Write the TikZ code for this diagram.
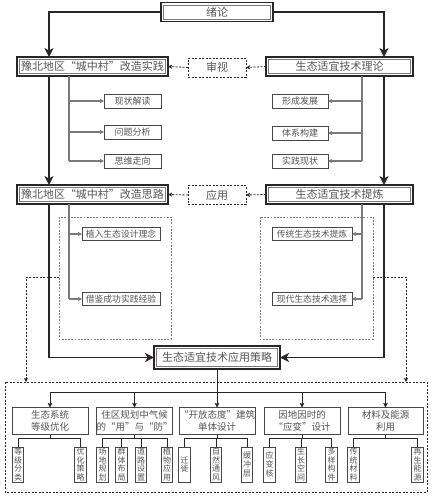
\documentclass[tikz,border=0pt]{standalone}
\usepackage{fontspec}
\newfontfamily\song{Noto Sans CJK SC}
\usetikzlibrary{arrows.meta,calc}
\definecolor{dk}{HTML}{2B2626}
\definecolor{tx}{HTML}{555555}
\definecolor{gl}{HTML}{7A7A7A}
\begin{document}
\begin{tikzpicture}[x=1pt,y=-1pt,
  every node/.style={inner sep=0pt,outer sep=0pt,text=tx},
  mainbox/.style={draw=dk,line width=1.7pt,fill=white,minimum height=19pt,font=\song\fontsize{11}{12}\selectfont},
  innerln/.style={draw=gl,line width=0.7pt},
  smallbox/.style={draw=black!72,line width=0.9pt,fill=white,minimum height=14pt,font=\song\fontsize{9}{10}\selectfont},
  midbox/.style={draw=black!72,line width=0.9pt,fill=white,minimum height=12.5pt,font=\song\fontsize{8.8}{10}\selectfont},
  dbox/.style={draw=dk,dashed,dash pattern=on 2pt off 1.5pt,line width=0.7pt,minimum height=19pt,minimum width=58pt,font=\song\fontsize{11}{12}\selectfont},
  catbox/.style={draw=black!72,line width=0.9pt,fill=white,minimum height=27pt,align=center,font=\song\fontsize{9.5}{12.5}\selectfont},
  leaf/.style={draw=black!72,line width=0.9pt,fill=white,minimum width=11.5pt,minimum height=35pt,align=center,font=\song\fontsize{8}{8.6}\selectfont},
  thk/.style={draw=dk,line width=1.5pt,-{Stealth[length=9pt,width=9pt,inset=2.5pt]}},
  thinln/.style={draw=gl,line width=1.1pt},
  sarr/.style={-{Stealth[length=4pt,width=4pt,inset=0.8pt]},draw=gl,line width=1.1pt},
  darr/.style={draw=dk,line width=0.8pt,dash pattern=on 2pt off 1.5pt,-{Stealth[length=4pt,width=4pt,inset=0.8pt]}},
  region/.style={draw=gl,line width=0.8pt,dash pattern=on 1.8pt off 1.4pt},
  ln/.style={draw=dk,line width=0.9pt},
  larr/.style={draw=dk,line width=0.9pt,-{Stealth[length=4.5pt,width=4.5pt,inset=0.8pt]}},
]
\useasboundingbox (0,0) rectangle (433,496);

% main boxes
\node[mainbox,minimum width=112pt] (xl) at (217,12) {绪论};
\node[mainbox,minimum width=151pt] (sj) at (92.5,66.5) {豫北地区“城中村”改造实践};
\node[mainbox,minimum width=147pt] (ll) at (339.5,66.5) {生态适宜技术理论};
\node[dbox] (sv) at (217,67.5) {审视};
\node[mainbox,minimum width=151pt] (sl) at (92.5,194.5) {豫北地区“城中村”改造思路};
\node[mainbox,minimum width=147pt] (tl) at (339.5,194.5) {生态适宜技术提炼};
\node[dbox] (yy) at (217,195) {应用};
\node[mainbox,minimum width=126pt,minimum height=23pt] (cl) at (217,357.5) {生态适宜技术应用策略};
\foreach \n in {xl,sj,ll,sl,tl,cl}{
  \draw[innerln] ([shift={(2.6pt,-2.6pt)}]\n.north west) rectangle ([shift={(-2.6pt,2.6pt)}]\n.south east);
}

% level-1 small boxes
\node[smallbox,minimum width=57pt] (a1) at (132.5,101) {现状解读};
\node[smallbox,minimum width=57pt] (a2) at (132.5,132) {问题分析};
\node[smallbox,minimum width=57pt] (a3) at (132.5,161) {思维走向};
\node[smallbox,minimum width=56pt] (b1) at (300,101) {形成发展};
\node[smallbox,minimum width=56pt] (b2) at (300,133) {体系构建};
\node[smallbox,minimum width=56pt] (b3) at (300,161) {实践现状};

% regions
\draw[region] (59,217) rectangle (171,339);
\draw[region] (260,217) rectangle (373,339);
\node[midbox,minimum width=78pt] (c1) at (121,234) {植入生态设计理念};
\node[midbox,minimum width=78pt] (c2) at (121,299) {借鉴成功实践经验};
\node[midbox,minimum width=80pt] (d1) at (312,234) {传统生态技术提炼};
\node[midbox,minimum width=80pt] (d2) at (312,299) {现代生态技术选择};

% coordinates for trunks
\coordinate (lx) at (49,0);
\coordinate (rx) at (384,0);
\coordinate (tlx) at (69,0);
\coordinate (trx) at (362,0);

% thick connectors
\draw[thk] (xl.west) -| (sj.north -| lx);
\draw[thk] (xl.east) -| (ll.north -| rx);
\draw[thk] (sj.south -| lx) -- (sl.north -| lx);
\draw[thk] (ll.south -| rx) -- (tl.north -| rx);
\draw[thk] (sl.south -| lx) |- (cl.west);
\draw[thk] (tl.south -| rx) |- (cl.east);

% dashed arrows
\draw[darr] (ll.west) -- (sv.east);
\draw[darr] (sv.west) -- (sj.east);
\draw[darr] (tl.west) -- (yy.east);
\draw[darr] (yy.west) -- (sl.east);

% thin trunks level 1
\draw[thinln] (sj.south -| tlx) -- (a3.west -| tlx);
\foreach \b in {a1,a2,a3} \draw[sarr] (\b.west -| tlx) -- (\b.west);
\draw[thinln] (ll.south -| trx) -- (b3.east -| trx);
\foreach \b in {b1,b2,b3} \draw[sarr] (\b.east -| trx) -- (\b.east);

% thin trunks level 2
\draw[thinln] (sl.south -| tlx) -- (c2.west -| tlx);
\foreach \b in {c1,c2} \draw[sarr] (\b.west -| tlx) -- (\b.west);
\draw[thinln] (tl.south -| trx) -- (d2.east -| trx);
\foreach \b in {d1,d2} \draw[sarr] (\b.east -| trx) -- (\b.east);

% bottom dashed box and feeders
\draw[draw=dk,line width=0.8pt,dash pattern=on 2pt off 1.5pt] (5,382) rectangle (427,492);
\coordinate (fl) at (59,277);
\coordinate (flb) at (26,382);
\coordinate (fr) at (373,277);
\coordinate (frb) at (406,382);
\draw[darr] (fl) -| (flb);
\draw[darr] (fr) -| (frb);

% categories
\node[catbox,minimum width=76pt] (k1) at (50,421) {生态系统\\等级优化};
\node[catbox,minimum width=75pt] (k2) at (134.5,421) {住区规划中气候\\的“用”与“防”};
\node[catbox,minimum width=76pt] (k3) at (217,421) {“开放态度”建筑\\单体设计};
\node[catbox,minimum width=76pt] (k4) at (302,421) {因地因时的\\“应变”设计};
\node[catbox,minimum width=75pt] (k5) at (385.5,421) {材料及能源\\利用};

\coordinate (bar) at (0,392);
\draw[ln] (cl.south) -- (cl.south |- bar);
\draw[ln] (k1.north |- bar) -- (k5.north |- bar);
\foreach \k in {k1,k2,k3,k4,k5} \draw[larr] (\k.north |- bar) -- (\k.north);

% leaves
\foreach \n/\x/\t in {l11/18/{等\\级\\分\\类}, l12/80.5/{优\\化\\策\\略},
  l21/102.5/{场\\地\\规\\划}, l22/121.5/{群\\体\\布\\局}, l23/141/{道\\路\\设\\置}, l24/167/{植\\物\\应\\用},
  l31/184.5/{迁\\徙}, l32/216/{自\\然\\通\\风}, l33/247/{缓\\冲\\层},
  l41/269.5/{应\\变\\核}, l42/301/{生\\长\\空\\间}, l43/331.5/{多\\样\\构\\件},
  l51/353.5/{传\\统\\材\\料}, l52/417.5/{再\\生\\能\\源}}
  \node[leaf] (\n) at (\x,464.5) {\t};

\coordinate (lb) at (0,438);
\foreach \k/\f/\l/\m in {k1/l11/l12/{l11,l12}, k2/l21/l24/{l21,l22,l23,l24}, k3/l31/l33/{l31,l32,l33}, k4/l41/l43/{l41,l42,l43}, k5/l51/l52/{l51,l52}}{
  \draw[ln] (\k.south) -- (\k.south |- lb);
  \draw[ln] (\f.north |- lb) -- (\l.north |- lb);
  \foreach \q in \m \draw[ln] (\q.north |- lb) -- (\q.north);
}
\end{tikzpicture}
\end{document}
